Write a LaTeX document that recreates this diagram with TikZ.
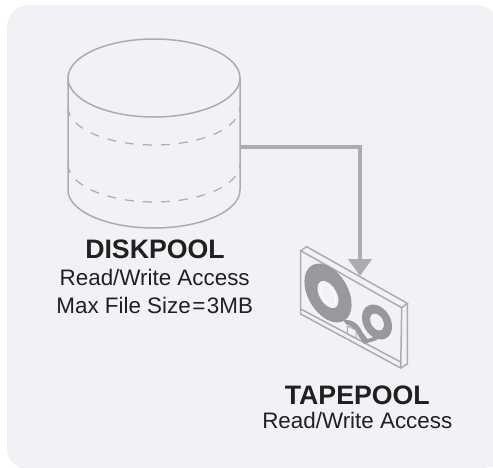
\documentclass[tikz,border=0pt]{standalone}
\usepackage{fontspec}
\setmainfont{Liberation Sans}
\usetikzlibrary{arrows.meta}
\definecolor{panelbg}{HTML}{F1F2F5}
\definecolor{linegray}{HTML}{ABACAE}
\definecolor{reelgray}{HTML}{98999B}
\definecolor{ink}{HTML}{231F20}
\tikzset{
  outline/.style={draw=linegray,line width=1.5pt},
  dashline/.style={draw=linegray,line width=1.2pt,dash pattern=on 9pt off 9pt},
  title/.style={anchor=base,text=ink,font=\fontsize{26.7}{30}\selectfont\bfseries,inner sep=0pt},
  sub/.style={anchor=base,text=ink,font=\fontsize{22.4}{26}\selectfont,inner sep=0pt},
  flow/.style={draw=linegray,line width=4pt,-{Triangle[width=23pt,length=17pt]}}
}
\begin{document}
\begin{tikzpicture}[x=1pt,y=-1pt]
\useasboundingbox (0,0) rectangle (493,467);
\fill[white] (0,0) rectangle (493,467);
\fill[panelbg,rounded corners=22pt] (7,5) rectangle (499,470);
\fill[panelbg] (460,430) rectangle (493,467);
% disk
\draw[outline] (68,78) -- (68,190) arc[start angle=180,delta angle=180,x radius=86,y radius=-38] -- (240,78);
\draw[outline] (154,78) ellipse[x radius=86,y radius=39];
\draw[dashline] (68,107) arc[start angle=180,delta angle=180,x radius=86,y radius=-38];
\draw[dashline] (68,164) arc[start angle=180,delta angle=180,x radius=86,y radius=-38];
\coordinate (diskport) at (240,147);
% tape
\draw[outline] (300.7,250.7) -- (306.7,246.7) -- (407.3,303.3) -- (401.7,307.7) -- cycle;
\draw[outline] (300.7,250.7) -- (300.7,314) -- (400.7,368) -- (401.7,307.7);
\draw[outline] (407.3,303.3) -- (407.3,364) -- (400.7,368);
\draw[outline] (300.7,309) -- (400.7,362);
\fill[reelgray] (328,293) ellipse[x radius=32,y radius=20,rotate=-60];
\fill[panelbg] (328,294.5) ellipse[x radius=15,y radius=8.5,rotate=-60];
\draw[white,line width=.8pt] (328,294.5) ellipse[x radius=11.5,y radius=6,rotate=-60];
\fill[reelgray] (377,322) ellipse[x radius=18.6,y radius=13.6,rotate=-60];
\fill[panelbg] (377,322) ellipse[x radius=9,y radius=6,rotate=-60];
\fill[reelgray] (343,320) .. controls (350,319) and (358,322) .. (362.5,332.5) -- (367.5,339) -- (377,336) -- (377,340) -- (364,344) -- (359,336.7) .. controls (356,330) and (352,326) .. (346,324) -- cycle;
\draw[draw=linegray,line width=1pt] (347.3,326) -- (356,330) -- (356,338.3) -- (347.3,334) -- cycle;
\coordinate (tapeport) at (360,276);
\draw[flow] (diskport) -| (tapeport);
% labels
\node[title] (disktitle) at (155,258.3) {DISKPOOL};
\node[sub] (diskline1) at (154.7,285) {Read/Write Access};
\node[sub] (diskline2) at (154.7,313.3) {Max File Size\kern1.5pt=\kern1.5pt3MB};
\node[title] (tapetitle) at (357.3,404) {TAPEPOOL};
\node[sub] (tapeline1) at (357.3,428.3) {Read/Write Access};
\end{tikzpicture}
\end{document}
